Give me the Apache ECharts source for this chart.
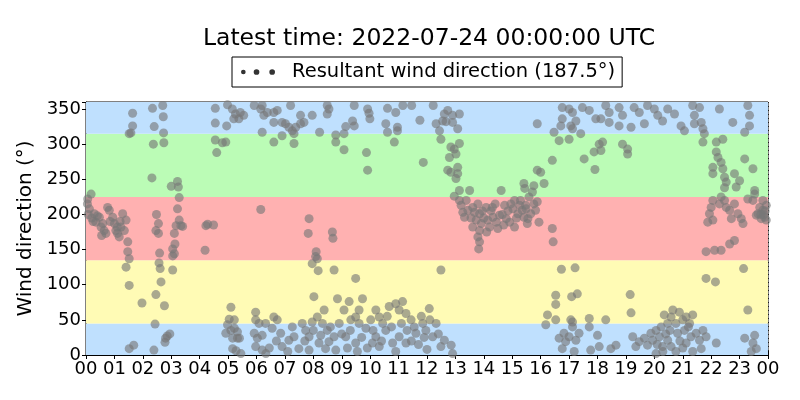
<!DOCTYPE html>
<html>
<head>
<meta charset="utf-8">
<script src="https://cdn.jsdelivr.net/npm/echarts@6/dist/echarts.min.js"></script>
<style>
  html, body { margin: 0; padding: 0; background: #fff; }
  #chart { width: 800px; height: 400px; }
</style>
</head>
<body>
<div id="chart"></div>
<script>
// Wind direction samples, [hour of day, degrees]
const early = [
  [0.05,215],[0.06,222],[0.18,229],[0.12,208],[0.08,200],[0.2,195],[0.29,201],[0.25,190],[0.35,189],[0.4,198],
  [0.47,196],[0.53,182],[0.59,187],[0.64,177],[0.7,173],[0.55,170],[0.76,210],[0.82,206],[0.85,190],[0.94,196],
  [1.0,187],[1.05,177],[1.1,182],[1.11,173],[1.17,168],[1.2,190],[1.23,182],[1.29,201],[1.35,177],[1.41,192],
  [1.47,161],[1.47,147],[1.52,137],[1.41,125],[1.52,99],[1.64,344],[1.64,326],[1.58,316],[1.52,315],[1.52,9],
  [1.68,14],[1.97,74],[2.34,351],[2.7,355],[2.72,339],[2.4,325],[2.73,316],[2.37,300],[2.74,302],[2.32,252],
  [2.48,200],[2.55,187],[2.46,177],[2.55,173],[2.59,145],[2.57,131],[2.61,123],[2.64,104],[2.46,86],[2.76,70],
  [2.43,44],[2.8,24],[2.86,27],[2.95,30],[2.78,18],[2.39,7],[3.0,240],[3.22,247],[3.25,239],[3.28,224],
  [3.22,208],[3.28,192],[3.17,184],[3.34,184],[3.4,183],[3.11,173],[3.13,158],[3.05,151],[3.11,144],[3.05,141],
  [3.05,121]
];
const morning = [
  [4.22,184],[4.28,186],[4.49,185],[4.19,149],[4.55,351],[4.55,330],[4.55,306],[4.6,288],[4.8,302],[4.92,303],
  [4.95,326],[4.98,356],[5.15,350],[5.2,336],[5.26,343],[5.43,345],[5.55,341],[5.38,336],[5.1,68],[5.04,51],
  [5.22,50],[4.98,43],[4.92,31],[5.1,35],[5.22,38],[5.33,33],[5.16,24],[5.33,24],[5.16,9],[5.28,6],
  [5.4,24],[5.45,2],[5.92,355],[6.15,350],[6.38,345],[6.2,317],[6.15,207],[5.97,61],[5.97,50],[6.09,45],
  [5.92,31],[6.03,24],[6.2,28],[5.97,12],[6.2,7],[6.33,2],[6.2,355],[6.61,345],[6.73,348],[6.26,341],
  [6.61,331],[6.9,331],[7.02,329],[7.14,324],[7.26,319],[7.38,324],[7.55,329],[7.67,331],[7.2,355],[7.55,341],
  [7.96,341],[6.61,303],[6.9,312],[7.32,315],[7.32,301],[6.32,45],[6.61,54],[6.73,50],[6.55,38],[6.85,31],
  [6.9,12],[7.14,21],[7.26,40],[7.32,26],[7.49,9],[7.61,45],[7.73,35],[7.85,26],[7.96,47],[7.85,194],
  [7.82,173],[7.96,130],[7.85,7],[6.7,20],[6.45,10],[7.1,5],[7.7,20],[8.0,35]
];
const midday = [
  [8.22,317],[8.49,355],[8.55,350],[8.49,343],[8.79,313],[8.79,303],[9.08,315],[9.14,325],[9.38,333],[9.44,355],
  [9.44,326],[9.08,292],[9.91,350],[9.96,344],[9.99,336],[9.87,288],[9.91,263],[10.55,329],[10.61,351],[10.61,317],
  [10.96,324],[10.96,319],[10.9,345],[11.15,355],[10.85,303],[11.46,355],[11.75,334],[11.87,274],[12.22,355],[12.32,329],
  [12.44,319],[12.49,307],[12.55,333],[12.67,332],[12.61,343],[12.73,348],[12.9,341],[12.9,331],[13.14,343],[13.08,322],
  [12.84,296],[12.96,293],[13.02,286],[13.14,301],[12.79,281],[12.73,263],[12.84,260],[13.08,267],[13.02,251],[13.08,258],
  [13.14,234],[12.96,226],
  [8.02,83],[8.14,54],[8.32,45],[8.26,28],[8.38,64],[8.49,35],[8.2,17],[8.55,19],[8.73,26],[8.85,80],
  [8.91,45],[9.08,64],[9.26,76],[9.32,50],[9.49,54],[9.61,64],[9.73,80],[9.61,45],[9.14,26],[9.49,17],
  [9.85,38],[10.02,50],[10.2,64],[10.32,54],[10.44,45],[10.55,35],[10.67,69],[10.9,73],[11.02,64],[11.14,76],
  [11.26,59],[11.44,50],[11.55,40],[11.61,31],[11.85,45],[11.96,35],[12.08,66],[12.2,26],[12.32,45],[12.49,12],
  [12.61,21],[12.85,14],[12.9,2],[10.2,26],[10.79,17],[11.02,26],[11.26,17],[10.32,12],[10.08,17],[8.43,9],
  [8.79,7],[8.6,40],[9.0,30],[9.2,10],[9.7,25],[9.9,10],[10.1,35],[10.4,20],[10.6,55],[10.75,40],
  [11.1,45],[11.3,35],[11.45,20],[11.7,15],[11.9,25],[12.1,50],[12.4,30],[9.3,35],[9.55,5],[10.9,5],
  [11.8,55],[12.0,8],
  [8.1,147],[8.14,137],[8.17,120],[8.67,175],[8.69,166],[8.73,121],[9.49,109],[12.49,121],[8.08,140]
];
const afternoon = [
  [13.14,220],[13.2,213],[13.26,203],[13.38,220],[13.5,234],[13.32,196],[13.44,206],[13.61,210],[13.67,203],[13.79,215],
  [13.85,201],[13.73,192],[13.91,187],[13.61,182],[13.85,177],[13.79,168],[13.85,161],[13.82,151],[14.08,210],[14.14,192],
  [14.2,182],[14.32,196],[14.44,189],[14.49,180],[14.55,199],[14.61,234],[14.73,213],[14.79,194],[14.91,189],[15.02,208],
  [15.08,220],[15.2,201],[15.26,213],[15.44,237],[15.49,208],[15.55,194],[15.08,182],[15.29,220],[15.35,206],[15.47,213],
  [15.59,225],[15.71,232],[15.41,196],[15.53,187],[15.65,201],[15.76,215],[15.88,218],[15.82,206],[15.94,189],[15.76,241],
  [15.41,244],[15.88,263],[16.0,260],[16.12,244],[16.41,277],[16.41,180],[16.44,161],[15.88,329],[13.95,205],[14.0,195],
  [14.25,205],[14.4,215],[14.65,200],[14.85,205],[14.95,215],[15.15,195],[13.55,195],[14.1,175],[14.3,210],[14.7,185]
];
const evening = [
  [16.76,352],[17.0,350],[17.12,345],[16.76,336],[16.71,326],[17.06,326],[17.24,333],[17.12,322],[17.41,315],[16.47,317],
  [16.65,305],[17.0,307],[17.47,352],[17.71,348],[17.94,336],[18.12,336],[18.41,331],[18.29,355],[18.41,345],[18.18,303],
  [18.06,300],[17.88,289],[18.12,291],[17.53,279],[17.91,264],[18.76,352],[18.88,341],[18.76,326],[19.18,324],[18.88,300],
  [19.06,293],[19.06,286],[19.29,352],[19.47,345],[19.65,329],[19.76,355],
  [16.73,122],[17.21,124],[16.53,85],[16.53,72],[17.09,83],[17.29,87],[19.15,86],[19.18,60],[16.24,57],[16.18,43],
  [16.53,50],[17.06,50],[17.12,47],[17.71,52],[18.29,50],
  [16.65,24],[16.82,31],[16.88,19],[17.0,26],[17.12,40],[17.24,21],[17.35,31],[16.76,9],[17.18,5],[17.71,40],
  [18.0,28],[18.06,12],[18.47,9],[18.65,14],[17.76,7],[19.24,26],[19.47,19],[19.35,12],[19.65,24],[19.76,14],
  [19.88,31],[19.94,21]
];
const night = [
  [20.0,350],[20.12,341],[20.29,333],[20.47,350],[20.71,343],[20.94,326],[21.06,319],[21.35,355],[21.59,352],[21.41,341],
  [21.41,329],[21.65,331],[21.71,322],[21.76,315],[21.71,303],[22.18,303],[22.29,350],[22.76,331],[23.29,355],[23.35,341],
  [23.35,326],[23.18,317],[22.41,307],
  [22.18,289],[22.24,281],[22.35,274],[22.06,267],[22.06,258],[22.41,265],[22.47,253],[22.53,246],[22.47,238],[22.88,239],
  [22.82,258],[23.0,248],[23.18,279],[23.47,265],[23.53,234],[23.53,229],[22.06,220],[22.0,210],[21.94,201],[21.88,189],
  [22.06,192],[22.29,215],[22.35,225],[22.47,220],[22.53,210],[22.65,206],[22.71,194],[22.82,215],[22.94,201],[23.06,194],
  [23.12,187],[22.82,163],[22.65,158],[22.35,149],[22.12,149],[21.82,147],[23.29,222],[23.47,220],[23.71,210],[23.65,201],
  [23.82,206],[23.88,196],[23.94,192],[23.76,194],[23.59,199],[23.94,213],[23.82,220],[23.85,200],[23.9,205],[23.75,200],
  [21.82,109],[22.15,104],[23.14,123],[23.29,64],
  [20.06,35],[20.18,26],[20.29,12],[20.24,40],[20.35,57],[20.47,45],[20.59,54],[20.65,64],[20.76,45],[20.82,31],
  [20.88,61],[21.0,50],[21.06,35],[21.12,54],[21.24,45],[21.29,26],[21.35,57],[21.47,31],[21.59,21],[21.65,9],
  [21.12,17],[20.59,12],[20.47,21],[21.71,35],[21.82,26],[20.06,2],[20.76,5],[21.35,5],[22.18,17],[23.18,24],
  [23.53,28],[23.47,17],[23.59,9],[23.41,5],[20.1,15],[20.4,30],[20.55,35],[20.9,20],[21.0,10],[21.2,40],[20.3,5]
];

// Direction sectors (degrees) and their fill colours
const bandEdges = [0, 45, 135, 225, 315, 360];
const bandColors = ['#bfe0fe', '#fffbb5', '#ffb1b1', '#bbfcb6', '#bfe0fe'];

const seriesName = 'Resultant wind direction (187.5\u00b0)';
const titleText = 'Latest time: 2022-07-24 00:00:00 UTC';
const fontFamily = '"DejaVu Sans", sans-serif';

const chart = echarts.init(document.getElementById('chart'), null, { renderer: 'canvas' });

const samples = [].concat(early, morning, midday, afternoon, evening, night);

const bands = bandColors.map((c, i) => [
  { yAxis: bandEdges[i], itemStyle: { color: c } },
  { yAxis: bandEdges[i + 1] }
]);

const gridLine = { show: true, lineStyle: { color: '#000', type: [1, 3], width: 0.8 } };
const innerTick = { show: true, inside: true, length: 4, lineStyle: { color: '#000' } };
const tickFont = { color: '#000', fontFamily: fontFamily, fontSize: 18 };

const option = {
  animation: false,
  backgroundColor: '#fff',
  title: {
    text: titleText,
    left: 424,
    top: 22,
    textAlign: 'center',
    textStyle: { fontFamily: fontFamily, fontSize: 23.5, fontWeight: 'normal', color: '#000' }
  },
  legend: {
    data: [{ name: seriesName, itemStyle: { color: '#000' } }],
    left: 232,
    top: 57,
    padding: [5, 7, 5, 9],
    borderColor: '#000',
    borderWidth: 1,
    borderRadius: 0,
    itemWidth: 34,
    itemHeight: 6,
    icon: 'path://M0.5,3a2.3,2.3 0 1,0 4.6,0a2.3,2.3 0 1,0 -4.6,0M13,3a2.8,2.8 0 1,0 5.6,0a2.8,2.8 0 1,0 -5.6,0M28.4,3a2.8,2.8 0 1,0 5.6,0a2.8,2.8 0 1,0 -5.6,0',
    textStyle: { fontFamily: fontFamily, fontSize: 19.5, color: '#000', padding: [0, 0, 0, 12] }
  },
  grid: {
    left: 86, right: 32, top: 102, bottom: 45,
    show: true, borderColor: '#000', borderWidth: 1
  },
  xAxis: [
    {
      type: 'value',
      min: 0, max: 24, interval: 1,
      axisLine: { show: true, lineStyle: { color: '#000' } },
      axisTick: innerTick,
      axisLabel: Object.assign({ margin: 5, formatter: v => String(v % 24).padStart(2, '0') }, tickFont),
      splitLine: gridLine
    },
    {
      type: 'value', position: 'top',
      min: 0, max: 24, interval: 1,
      axisLine: { show: false },
      axisTick: innerTick,
      axisLabel: { show: false },
      splitLine: { show: false }
    }
  ],
  yAxis: [
    {
      type: 'value',
      min: 0, max: 360, interval: 50,
      name: 'Wind direction (\u00b0)',
      nameLocation: 'middle',
      nameGap: 43,
      nameTextStyle: { fontFamily: fontFamily, fontSize: 20, color: '#000' },
      axisLine: { show: true, lineStyle: { color: '#000' } },
      axisTick: innerTick,
      axisLabel: Object.assign({ margin: 5, showMaxLabel: false, formatter: v => (v % 50 === 0 ? String(v) : '') }, tickFont),
      splitLine: gridLine
    },
    {
      type: 'value', position: 'right',
      min: 0, max: 360, interval: 50,
      axisLine: { show: false },
      axisTick: innerTick,
      axisLabel: { show: false },
      splitLine: { show: false }
    }
  ],
  series: [
    {
      name: 'bands',
      type: 'scatter',
      data: [],
      z: 1,
      silent: true,
      markArea: { silent: true, data: bands }
    },
    {
      name: seriesName,
      type: 'scatter',
      z: 3,
      symbolSize: 9,
      data: samples,
      itemStyle: { color: 'rgba(118,118,118,0.78)' }
    }
  ]
};

chart.setOption(option);
</script>
</body>
</html>
